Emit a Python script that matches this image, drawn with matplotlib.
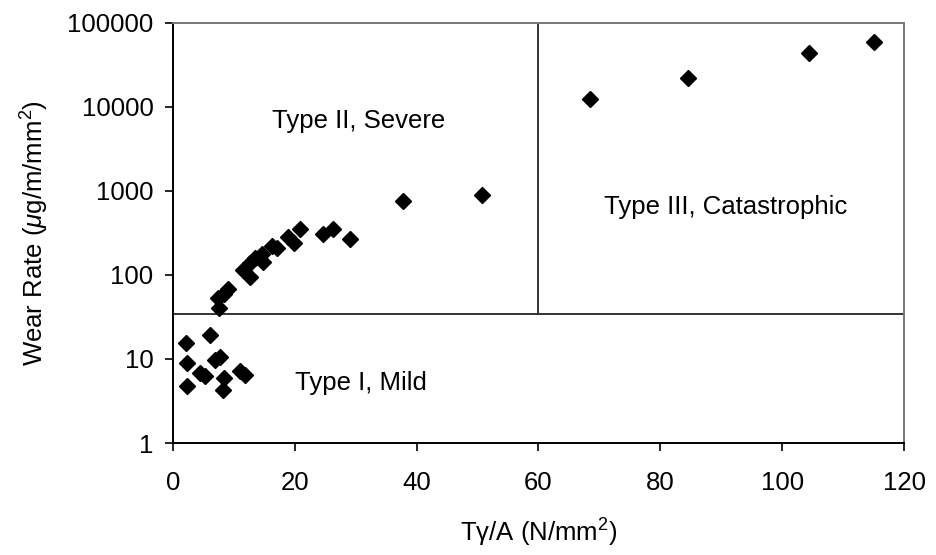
import matplotlib
matplotlib.use('Agg')
import matplotlib.pyplot as plt
from matplotlib.ticker import FixedLocator, FixedFormatter

plt.rcParams['font.family'] = ['Liberation Sans', 'DejaVu Sans']
plt.rcParams['mathtext.fontset'] = 'custom'
plt.rcParams['mathtext.rm'] = 'Liberation Sans'
plt.rcParams['mathtext.it'] = 'Liberation Sans:italic'

# valores
x_vals = [2.2, 2.35, 2.35, 6.0, 4.5, 5.2, 6.9, 7.8, 8.4, 8.2, 11.0, 11.8,
          7.6, 7.4, 8.3, 9.1, 11.5, 12.6, 12.6, 13.5, 14.6, 14.8, 16.2, 17.0,
          18.9, 19.8, 20.85, 24.7, 26.2, 29.1, 37.8, 50.7,
          68.5, 84.5, 104.4, 115.0]
y_vals = [15.4, 9.0, 4.8, 19.3, 6.8, 6.2, 9.7, 10.6, 6.0, 4.3, 7.2, 6.4,
          40, 53, 60, 69, 115, 95, 138, 158, 178, 144, 221, 208,
          281, 238, 350, 305, 350, 268, 760, 896,
          12400, 22300, 43600, 59400]

limite_y = 34
limite_x = 60

y_ticks = [1, 10, 100, 1000, 10000, 100000]
x_ticks = [0, 20, 40, 60, 80, 100, 120]

fs = 18.5

fig = plt.figure(figsize=(9.37, 5.55), dpi=100)
ax = fig.add_axes([0.1846, 0.2018, 0.7802, 0.7568])

ax.plot(x_vals, y_vals, linestyle='none', marker='D', markersize=8,
        color='black', zorder=3)

ax.axhline(limite_y, color='#333333', linewidth=1.4)
ax.plot([limite_x, limite_x], [limite_y, 100000], color='#333333', linewidth=1.4)

ax.set_yscale('log')
ax.set_ylim(1, 100000)
ax.set_xlim(0, 120)
ax.yaxis.set_major_locator(FixedLocator(y_ticks))
ax.yaxis.set_major_formatter(FixedFormatter([str(v) for v in y_ticks]))
ax.yaxis.set_minor_locator(FixedLocator([]))
ax.set_xticks(x_ticks)

ax.tick_params(direction='out', length=6, width=1.2, labelsize=fs)
ax.tick_params(axis='y', pad=8)
ax.tick_params(axis='x', pad=14)
for lado in ['left', 'bottom']:
    ax.spines[lado].set_color('black')
    ax.spines[lado].set_linewidth(1.4)
for lado in ['top', 'right']:
    ax.spines[lado].set_color('#777777')
    ax.spines[lado].set_linewidth(1.4)

ax.text(16.3, 6800, 'Type II, Severe', fontsize=fs, ha='left', va='center')
ax.text(70.8, 640, 'Type III, Catastrophic', fontsize=fs, ha='left', va='center')
ax.text(20.0, 5.2, 'Type I, Mild', fontsize=fs, ha='left', va='center')

ax.set_xlabel('T\u03b3/A (N/mm$^2$)', fontsize=fs, labelpad=16)
ax.set_ylabel('Wear Rate ($\\mu$g/m/mm$^2$)', fontsize=fs, labelpad=12)

fig.savefig('out.png', dpi=100)
